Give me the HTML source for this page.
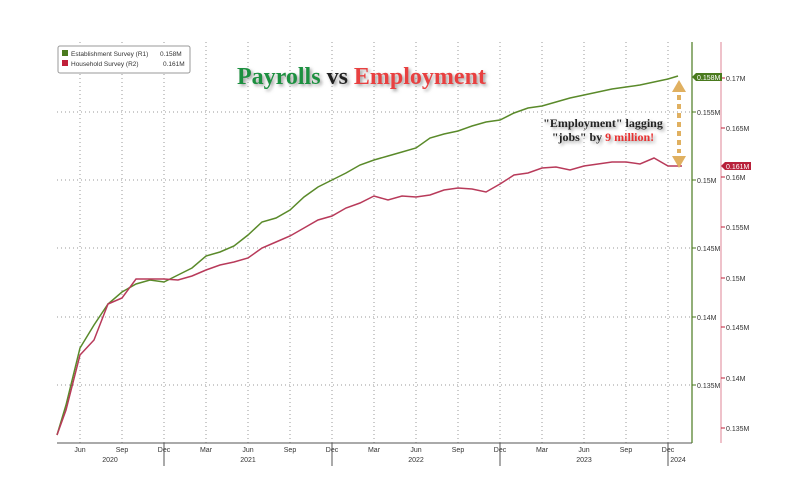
<!DOCTYPE html>
<html><head><style>
body{margin:0;background:#fff;}
svg{display:block;font-family:"Liberation Sans",sans-serif;}
</style></head><body>
<svg width="792" height="477" viewBox="0 0 792 477" xmlns="http://www.w3.org/2000/svg">
<defs><filter id="sh"><feDropShadow dx="2" dy="2" stdDeviation="1.5" flood-color="#777" flood-opacity="0.7"/></filter></defs>
<rect width="792" height="477" fill="#fff"/>
<g stroke="#999" stroke-width="1" stroke-dasharray="1,3">
<line x1="80" y1="42" x2="80" y2="443"/><line x1="122" y1="42" x2="122" y2="443"/><line x1="164" y1="42" x2="164" y2="443"/>
<line x1="206" y1="42" x2="206" y2="443"/><line x1="248" y1="42" x2="248" y2="443"/><line x1="290" y1="42" x2="290" y2="443"/>
<line x1="332" y1="42" x2="332" y2="443"/><line x1="374" y1="42" x2="374" y2="443"/><line x1="416" y1="42" x2="416" y2="443"/>
<line x1="458" y1="42" x2="458" y2="443"/><line x1="500" y1="42" x2="500" y2="443"/><line x1="542" y1="42" x2="542" y2="443"/>
<line x1="584" y1="42" x2="584" y2="443"/><line x1="626" y1="42" x2="626" y2="443"/><line x1="668" y1="42" x2="668" y2="443"/>
<line x1="57" y1="112" x2="692" y2="112"/><line x1="57" y1="180" x2="692" y2="180"/><line x1="57" y1="248" x2="692" y2="248"/>
<line x1="57" y1="317" x2="692" y2="317"/><line x1="57" y1="385" x2="692" y2="385"/>
</g>
<line x1="57" y1="443" x2="692" y2="443" stroke="#555"/>
<line x1="692" y1="42" x2="692" y2="443" stroke="#4a7a1e" stroke-width="1.2"/>
<line x1="721" y1="42" x2="721" y2="443" stroke="#e49aa8" stroke-width="1.2"/>
<g stroke="#4a7a1e"><line x1="692" y1="112" x2="696" y2="112"/><line x1="692" y1="180" x2="696" y2="180"/><line x1="692" y1="248" x2="696" y2="248"/><line x1="692" y1="317" x2="696" y2="317"/><line x1="692" y1="385" x2="696" y2="385"/></g>
<g stroke="#c0203a"><line x1="721" y1="78" x2="725" y2="78"/><line x1="721" y1="128" x2="725" y2="128"/><line x1="721" y1="177" x2="725" y2="177"/><line x1="721" y1="227" x2="725" y2="227"/><line x1="721" y1="278" x2="725" y2="278"/><line x1="721" y1="327" x2="725" y2="327"/><line x1="721" y1="378" x2="725" y2="378"/><line x1="721" y1="428" x2="725" y2="428"/></g>
<g stroke="#555"><line x1="164" y1="443" x2="164" y2="466"/><line x1="332" y1="443" x2="332" y2="466"/><line x1="500" y1="443" x2="500" y2="466"/><line x1="668" y1="443" x2="668" y2="466"/></g>
<g font-size="7" fill="#333">
<text x="697" y="115">0.155M</text><text x="697" y="183">0.15M</text><text x="697" y="251">0.145M</text><text x="697" y="320">0.14M</text><text x="697" y="388">0.135M</text>
<text x="726" y="81">0.17M</text><text x="726" y="131">0.165M</text><text x="726" y="180">0.16M</text><text x="726" y="230">0.155M</text><text x="726" y="281">0.15M</text><text x="726" y="330">0.145M</text><text x="726" y="381">0.14M</text><text x="726" y="431">0.135M</text>
</g>
<path d="M692 77 l4 -4 h26 v8 h-26z" fill="#4a7a1e"/><text x="697" y="80" font-size="7" fill="#fff">0.158M</text>
<path d="M721 166 l4 -4 h26 v8 h-26z" fill="#b8203a"/><text x="726" y="169" font-size="7" fill="#fff">0.161M</text>
<g font-size="7" fill="#333" text-anchor="middle">
<text x="80" y="452">Jun</text><text x="122" y="452">Sep</text><text x="164" y="452">Dec</text><text x="206" y="452">Mar</text><text x="248" y="452">Jun</text><text x="290" y="452">Sep</text><text x="332" y="452">Dec</text><text x="374" y="452">Mar</text><text x="416" y="452">Jun</text><text x="458" y="452">Sep</text><text x="500" y="452">Dec</text><text x="542" y="452">Mar</text><text x="584" y="452">Jun</text><text x="626" y="452">Sep</text><text x="668" y="452">Dec</text>
<text x="110" y="462">2020</text><text x="248" y="462">2021</text><text x="416" y="462">2022</text><text x="584" y="462">2023</text><text x="678" y="462">2024</text>
</g>
<polyline fill="none" stroke="#5a8a2a" stroke-width="1.5" points="57,435 66,405 80,348 94,325 108,304 122,292 136,284 150,280 164,282 178,275 192,268 206,256 220,252 234,246 248,235 262,222 276,218 290,210 304,197 318,187 332,180 346,173 360,165 374,160 388,156 402,152 416,148 430,138 444,134 458,131 472,126 486,122 500,120 514,113 528,108 542,106 556,102 570,98 584,95 598,92 612,89 626,87 640,85 654,82 668,79 678,76"/>
<polyline fill="none" stroke="#b83a5a" stroke-width="1.5" points="57,435 66,410 80,355 94,340 108,304 122,298 136,279 150,279 164,279 178,280 192,276 206,270 220,265 234,262 248,258 262,248 276,242 290,236 304,228 318,220 332,216 346,208 360,203 374,196 388,200 402,196 416,197 430,195 444,190 458,188 472,189 486,192 500,184 514,175 528,173 542,168 556,167 570,170 584,166 598,164 612,162 626,162 640,164 654,158 668,166 682,166"/>
<rect x="58" y="46" width="132" height="27" rx="2" fill="#fff" stroke="#999"/>
<rect x="62" y="50" width="6" height="6" fill="#4a7a1e"/><rect x="62" y="60" width="6" height="6" fill="#c0203a"/>
<g font-size="6.5" fill="#333"><text x="71" y="56">Establishment Survey (R1)</text><text x="160" y="56">0.158M</text><text x="71" y="66">Household Survey (R2)</text><text x="163" y="66">0.161M</text></g>
<g font-family="Liberation Serif,serif" font-weight="bold" filter="url(#sh)">
<text x="237" y="84" font-size="24"><tspan fill="#1a9040">Payrolls</tspan><tspan fill="#222"> vs </tspan><tspan fill="#e84040">Employment</tspan></text>
<text x="603" y="127" font-size="12" fill="#222" text-anchor="middle">"Employment" lagging</text>
<text x="603" y="141" font-size="12" fill="#222" text-anchor="middle">"jobs" by <tspan fill="#e83030">9 million!</tspan></text>
</g>
<g fill="#e0b060">
<path d="M679 80 l-7 12 h14z"/><path d="M679 168 l-7 -12 h14z"/>
<rect x="677" y="95" width="4" height="5"/><rect x="677" y="104" width="4" height="5"/><rect x="677" y="113" width="4" height="5"/><rect x="677" y="122" width="4" height="5"/><rect x="677" y="131" width="4" height="5"/><rect x="677" y="140" width="4" height="5"/><rect x="677" y="149" width="4" height="4"/>
</g>
</svg>
</body></html>
